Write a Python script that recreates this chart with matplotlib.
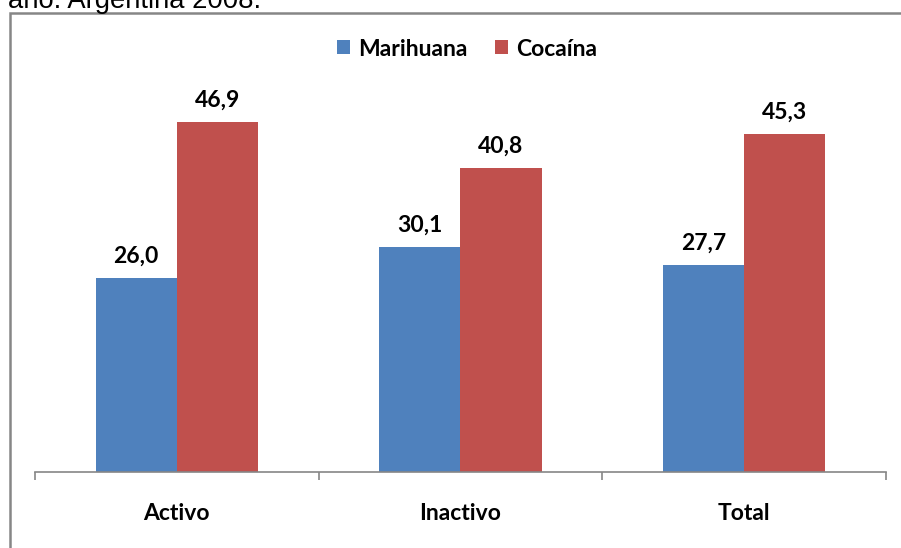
import numpy as np
import matplotlib
matplotlib.use('Agg')
import matplotlib.pyplot as plt
import matplotlib.patches as mpatches

categories = ['Activo', 'Inactivo', 'Total']
marihuana = [26.0, 30.1, 27.7]
cocaina = [46.9, 40.8, 45.3]
series_names = ['Marihuana', 'Cocaína']

BLUE = '#4F81BD'
RED = '#C0504D'
GRAY = '#868686'
FONT = 'Lato'
FS = 16.5

W, H = 901, 548
fig = plt.figure(figsize=(W / 100, H / 100), dpi=100)

# plot area in pixel terms: x 35..886, baseline at y=472
left, right = 35 / W, 886 / W
bottom = (H - 472) / H
ymax = 60
top_px = 472 - ymax * 7.46
ax = fig.add_axes([left, bottom, right - left, (472 - top_px) / H])

x = np.arange(len(categories))
bw = 1 / 3.5  # Excel-style gap width of 150%
ax.bar(x - bw / 2, marihuana, bw, color=BLUE, label=series_names[0], zorder=2)
ax.bar(x + bw / 2, cocaina, bw, color=RED, label=series_names[1], zorder=2)

for xs, vals in ((x - bw / 2, marihuana), (x + bw / 2, cocaina)):
    for xi, v in zip(xs, vals):
        ax.annotate(f'{v:.1f}'.replace('.', ','), (xi, v),
                    xytext=(0, 11), textcoords='offset points',
                    ha='center', va='baseline', fontsize=FS,
                    fontweight='bold', family=FONT, color='black')

ax.set_xlim(-0.5, len(categories) - 0.5)
ax.set_ylim(0, ymax)
for s in ('top', 'right', 'left'):
    ax.spines[s].set_visible(False)
ax.spines['bottom'].set_color(GRAY)
ax.spines['bottom'].set_linewidth(1.2)
ax.set_yticks([])

ax.set_xticks(x)
ax.set_xticklabels(categories, fontsize=FS, fontweight='bold', family=FONT)
ax.tick_params(axis='x', which='major', length=0, pad=22)
ax.set_xticks(np.arange(-0.5, len(categories)), minor=True)
ax.tick_params(axis='x', which='minor', length=6, width=1.2, color=GRAY,
               direction='out')

leg = ax.legend(loc='center', bbox_to_anchor=(467 / W, (H - 49) / H),
                bbox_transform=fig.transFigure, ncol=2, frameon=False,
                prop={'family': FONT, 'weight': 'bold', 'size': FS},
                handlelength=0.57, handleheight=0.57, handletextpad=0.35,
                columnspacing=1.2)

# outer chart frame, running off the right and bottom edges
frame = mpatches.Rectangle((9.5 / W, -0.1), 1.2, (H - 12.5) / H + 0.1,
                           transform=fig.transFigure, fill=False,
                           edgecolor=GRAY, linewidth=1.8, clip_on=False)
fig.patches.append(frame)

# caption line above the chart, cut by the top edge
fig.text(8 / W, (H - 8) / H, 'año. Argentina 2008.', family='Liberation Sans',
         fontsize=19.7, va='baseline', ha='left', color='black')

fig.savefig('out.png', dpi=100)
